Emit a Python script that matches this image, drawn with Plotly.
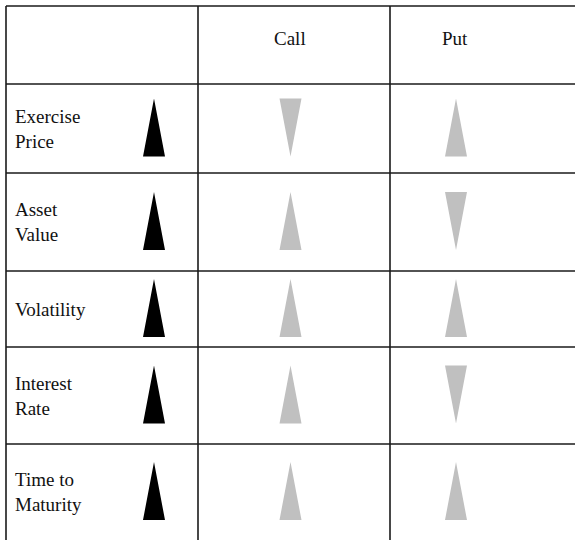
import plotly.graph_objects as go

# ---- data ----
factors = ["Exercise<br>Price", "Asset<br>Value", "Volatility", "Interest<br>Rate", "Time to<br>Maturity"]
headers = ["Call", "Put"]
factor_change = ["up", "up", "up", "up", "up"]
call_effect = ["down", "up", "up", "up", "up"]
put_effect = ["up", "down", "up", "down", "up"]

# ---- layout constants (pixels) ----
W, H = 575, 540
col_edges = [6, 198, 390]
row_edges = [6, 84, 173, 271, 347, 444]
label_x = 13
tri_centers_x = [154, 290.5, 456]
tri_w = 22
tri_h = 58
header_y = 38
FONT = "Liberation Serif, Times New Roman, serif"
LINE = "#1a1a1a"
GRAY = "#c0c0c0"

fig = go.Figure()

def tri_path(cx, cy, direction):
    top, bot = cy - tri_h / 2, cy + tri_h / 2
    if direction == "up":
        return [cx - tri_w / 2, cx, cx + tri_w / 2, cx - tri_w / 2], [bot, top, bot, bot]
    return [cx - tri_w / 2, cx, cx + tri_w / 2, cx - tri_w / 2], [top, bot, top, top]

row_mids = []
for i in range(len(factors)):
    top = row_edges[i + 1]
    bot = row_edges[i + 2] if i + 2 < len(row_edges) else H
    row_mids.append((top + bot) / 2 - 1)

for col, (effects, color) in enumerate([(factor_change, "black"), (call_effect, GRAY), (put_effect, GRAY)]):
    xs, ys = [], []
    for i, d in enumerate(effects):
        px, py = tri_path(tri_centers_x[col], row_mids[i], d)
        xs += px + [None]
        ys += py + [None]
    fig.add_trace(go.Scatter(x=xs, y=ys, fill="toself", fillcolor=color, mode="none",
                             hoverinfo="skip", showlegend=False))

# grid lines
shapes = []
for y in row_edges:
    shapes.append(dict(type="line", x0=col_edges[0], x1=W + 5, y0=y, y1=y,
                       line=dict(color=LINE, width=1.6)))
for x in col_edges:
    shapes.append(dict(type="line", x0=x, x1=x, y0=row_edges[0], y1=H + 5,
                       line=dict(color=LINE, width=1.6)))

annotations = []
header_x = [290, 455]
for h, hx in zip(headers, header_x):
    annotations.append(dict(x=hx, y=header_y, text=h, showarrow=False, xanchor="center",
                            yanchor="middle", font=dict(family=FONT, size=19, color="#111")))
for i, f in enumerate(factors):
    annotations.append(dict(x=label_x, y=row_mids[i] + 1, text=f, showarrow=False, xanchor="left",
                            yanchor="middle", align="left",
                            font=dict(family=FONT, size=19, color="#111")))

fig.update_layout(
    width=W, height=H, margin=dict(l=0, r=0, t=0, b=0),
    paper_bgcolor="white", plot_bgcolor="white",
    xaxis=dict(range=[0, W], visible=False, fixedrange=True),
    yaxis=dict(range=[H, 0], visible=False, fixedrange=True),
    shapes=shapes, annotations=annotations,
)

fig.write_html("out.html", config={"displayModeBar": False},
               post_script="document.body.style.margin='0';document.body.style.overflow='hidden';")
